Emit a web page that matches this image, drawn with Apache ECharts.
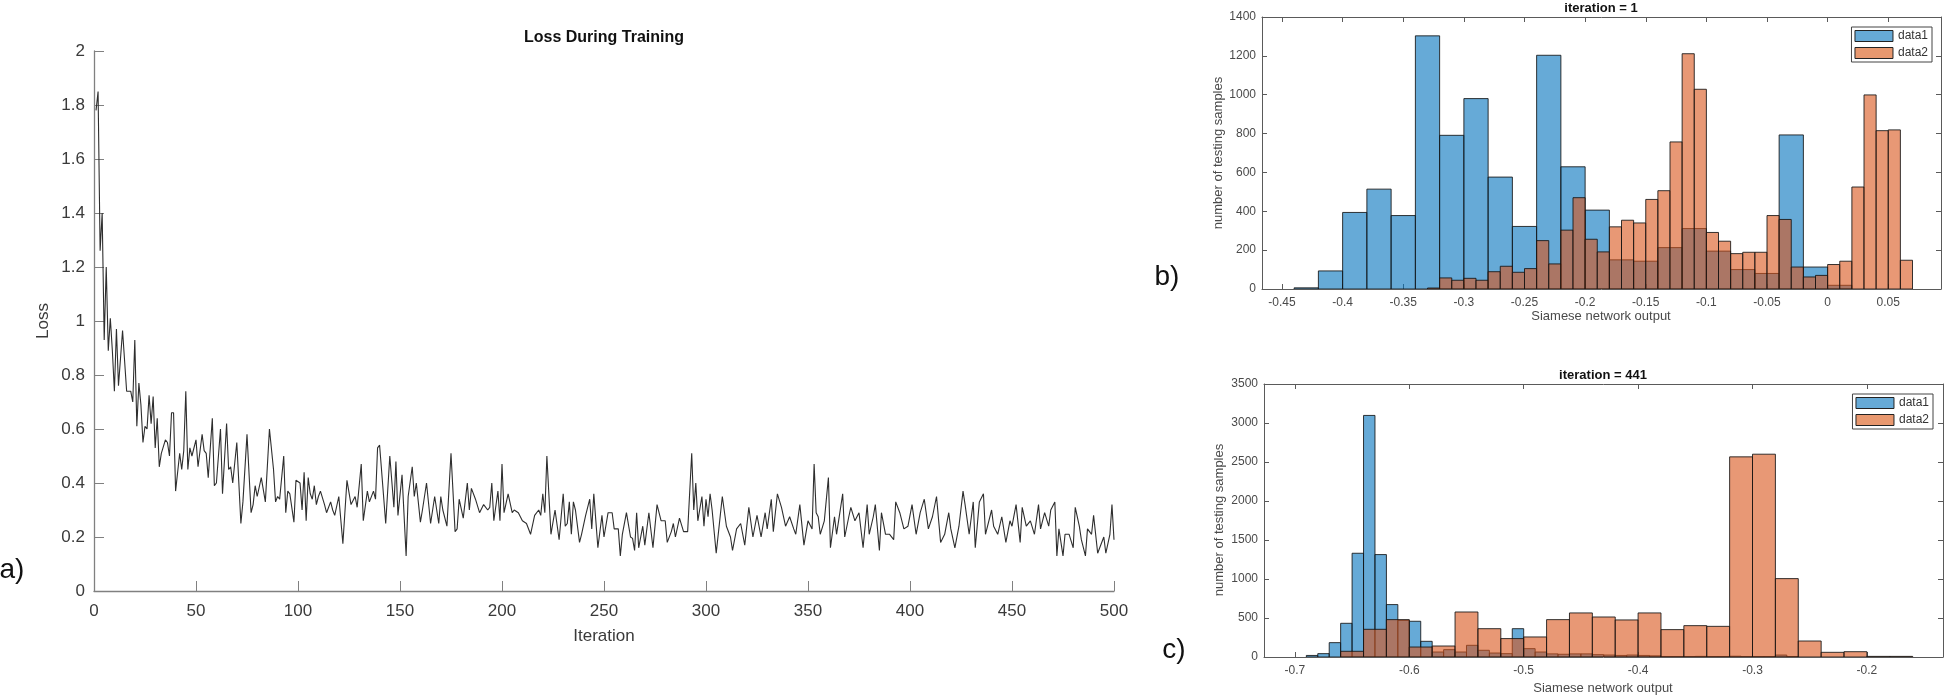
<!DOCTYPE html>
<html><head><meta charset="utf-8">
<script src="https://cdn.jsdelivr.net/npm/echarts@6/dist/echarts.min.js"></script>
<style>html,body{margin:0;padding:0;background:#fff}#c{width:1946px;height:700px}</style>
</head><body><div id="c"></div>
<script>
// ---------- Data ----------
// Loss during training: [iteration, loss]
const lossPoints = [
[1,1.78],[2,1.85],[3,1.26],[4,1.40],[5,0.93],[6,1.20],[7,0.89],[8,1.01],[9,0.89],[10,0.74],[11,0.97],[12,0.76],[14,0.965],[16,0.74],[18,0.74],[19,0.70],[20,0.93],[21,0.61],[22,0.77],[23,0.69],[24,0.55],[25,0.61],[26,0.60],[27,0.725],[28,0.62],[29,0.72],[30,0.53],[31,0.64],[32,0.46],[33,0.51],[35,0.56],[36,0.55],[37,0.50],[38,0.66],[39,0.66],[40,0.37],[42,0.51],[43,0.45],[44,0.52],[45,0.74],[46,0.45],[47,0.53],[48,0.50],[50,0.56],[51,0.46],[53,0.58],[54,0.52],[55,0.51],[56,0.42],[58,0.64],[59,0.39],[60,0.40],[62,0.60],[63,0.36],[65,0.62],[66,0.45],[67,0.46],[68,0.40],[70,0.55],[72,0.25],[73,0.33],[75,0.58],[77,0.29],[78,0.32],[79,0.39],[80,0.35],[82,0.42],[84,0.33],[86,0.60],[88,0.45],[89,0.33],[90,0.35],[91,0.34],[93,0.50],[94,0.29],[95,0.37],[96,0.36],[98,0.255],[99,0.41],[101,0.40],[102,0.30],[103,0.44],[104,0.26],[105,0.42],[106,0.36],[107,0.34],[108,0.39],[109,0.32],[110,0.35],[111,0.37],[113,0.32],[114,0.29],[116,0.33],[117,0.30],[118,0.28],[120,0.35],[122,0.175],[124,0.41],[126,0.32],[128,0.35],[129,0.31],[131,0.47],[132,0.26],[134,0.37],[135,0.33],[137,0.37],[138,0.34],[139,0.53],[140,0.54],[143,0.25],[145,0.50],[147,0.31],[148,0.48],[149,0.28],[151,0.43],[153,0.13],[154,0.35],[156,0.46],[157,0.35],[158,0.40],[160,0.255],[161,0.30],[163,0.40],[165,0.25],[167,0.35],[169,0.25],[170,0.35],[171,0.30],[173,0.24],[175,0.51],[177,0.22],[178,0.23],[179,0.34],[181,0.27],[183,0.40],[184,0.30],[185,0.38],[187,0.34],[189,0.29],[191,0.32],[193,0.30],[194,0.31],[195,0.40],[196,0.26],[198,0.37],[199,0.26],[200,0.47],[201,0.29],[203,0.36],[205,0.29],[206,0.30],[208,0.29],[210,0.26],[212,0.25],[214,0.21],[216,0.28],[218,0.30],[219,0.28],[220,0.36],[221,0.29],[222,0.50],[224,0.21],[226,0.30],[228,0.19],[230,0.36],[231,0.24],[232,0.25],[233,0.33],[234,0.21],[235,0.33],[236,0.30],[238,0.18],[239,0.21],[241,0.28],[243,0.34],[244,0.23],[245,0.36],[247,0.16],[249,0.28],[250,0.20],[252,0.29],[254,0.29],[255,0.23],[257,0.23],[258,0.13],[259,0.21],[261,0.29],[263,0.20],[264,0.195],[265,0.15],[266,0.29],[267,0.16],[269,0.24],[270,0.17],[272,0.29],[274,0.16],[276,0.32],[278,0.26],[280,0.26],[281,0.18],[283,0.22],[284,0.25],[285,0.20],[287,0.27],[289,0.22],[291,0.22],[293,0.51],[294,0.30],[295,0.40],[296,0.26],[298,0.35],[299,0.24],[300,0.34],[301,0.275],[302,0.36],[303,0.30],[305,0.14],[307,0.28],[308,0.35],[310,0.24],[312,0.20],[313,0.15],[315,0.23],[317,0.25],[319,0.17],[321,0.31],[323,0.20],[325,0.28],[327,0.20],[329,0.29],[330,0.23],[332,0.34],[333,0.22],[335,0.36],[337,0.31],[339,0.24],[341,0.275],[343,0.23],[344,0.21],[346,0.32],[348,0.17],[350,0.26],[352,0.23],[353,0.47],[354,0.29],[355,0.275],[356,0.21],[358,0.26],[360,0.42],[361,0.16],[363,0.275],[364,0.21],[367,0.36],[368,0.20],[370,0.275],[371,0.31],[373,0.26],[375,0.29],[377,0.16],[379,0.32],[380,0.21],[382,0.275],[383,0.32],[385,0.15],[386,0.29],[388,0.21],[390,0.21],[392,0.19],[393,0.33],[395,0.29],[397,0.23],[399,0.24],[401,0.32],[403,0.21],[405,0.29],[407,0.34],[409,0.23],[411,0.275],[413,0.35],[415,0.18],[417,0.21],[419,0.29],[420,0.23],[422,0.16],[424,0.24],[426,0.37],[427,0.32],[429,0.21],[431,0.33],[432,0.16],[434,0.33],[436,0.36],[437,0.21],[440,0.30],[441,0.24],[443,0.21],[445,0.275],[447,0.18],[449,0.26],[450,0.24],[452,0.32],[454,0.18],[455,0.31],[457,0.24],[459,0.26],[461,0.21],[463,0.32],[464,0.23],[466,0.29],[468,0.24],[469,0.30],[471,0.33],[472,0.13],[473,0.23],[475,0.13],[476,0.21],[478,0.21],[480,0.16],[481,0.31],[483,0.24],[484,0.19],[486,0.13],[487,0.23],[489,0.21],[490,0.28],[492,0.14],[493,0.16],[495,0.20],[496,0.14],[498,0.21],[499,0.32],[500,0.19]
];
const lossXTicks = [0,50,100,150,200,250,300,350,400,450,500];

// Histogram b) iteration = 1
const h1BlueEdges = [-0.44,-0.42,-0.40,-0.38,-0.36,-0.34,-0.32,-0.30,-0.28,-0.26,-0.24,-0.22,-0.20,-0.18,-0.16,-0.14,-0.12,-0.10,-0.08,-0.06,-0.04,-0.02,0.00,0.02];
const h1BlueCounts = [6,93,394,514,378,1303,791,980,576,322,1203,629,406,150,143,213,311,195,100,80,793,113,19];
const h1OrangeEdges = [-0.33,-0.32,-0.31,-0.30,-0.29,-0.28,-0.27,-0.26,-0.25,-0.24,-0.23,-0.22,-0.21,-0.20,-0.19,-0.18,-0.17,-0.16,-0.15,-0.14,-0.13,-0.12,-0.11,-0.10,-0.09,-0.08,-0.07,-0.06,-0.05,-0.04,-0.03,-0.02,-0.01,0.00,0.01,0.02,0.03,0.04,0.05,0.06,0.07];
const h1OrangeCounts = [5,57,45,55,45,89,117,86,105,249,129,303,470,256,191,320,354,340,461,506,757,1211,1028,291,246,182,189,189,378,358,113,62,70,126,143,525,999,815,819,148];
const h1XTicks = [-0.45,-0.4,-0.35,-0.3,-0.25,-0.2,-0.15,-0.1,-0.05,0,0.05];

// Histogram c) iteration = 441
const h2BlueEdges = [-0.69,-0.68,-0.67,-0.66,-0.65,-0.64,-0.63,-0.62,-0.61,-0.60,-0.59,-0.58,-0.57,-0.56,-0.55,-0.54,-0.53,-0.52,-0.51,-0.50,-0.49,-0.48,-0.47,-0.46,-0.45,-0.44,-0.43,-0.42,-0.41,-0.40,-0.39,-0.38,-0.37,-0.36,-0.35,-0.34,-0.33,-0.32,-0.31,-0.30,-0.29,-0.28,-0.27,-0.26];
const h2BlueCounts = [20,43,184,432,1330,3097,1313,672,470,458,201,64,94,64,150,86,51,43,363,107,64,40,35,40,40,30,25,20,25,20,15,5,5,5,8,5,5,10,5,5,5,25,5];
const h2OrangeEdges = [-0.66,-0.64,-0.62,-0.60,-0.58,-0.56,-0.54,-0.52,-0.50,-0.48,-0.46,-0.44,-0.42,-0.40,-0.38,-0.36,-0.34,-0.32,-0.30,-0.28,-0.26,-0.24,-0.22,-0.20,-0.18,-0.16];
const h2OrangeCounts = [73,355,479,128,141,577,363,236,257,479,565,513,475,565,351,402,393,2566,2600,1005,205,60,68,8,8];
const h2XTicks = [-0.7,-0.6,-0.5,-0.4,-0.3,-0.2];

// ---------- Build ----------
function bins(edges, counts){ return counts.map((c,i)=>[edges[i], edges[i+1], c]); }
const BLUE = 'rgba(0,114,189,0.6)', ORANGE = 'rgba(217,83,25,0.6)';
function histSeries(name, data, xi, yi, fill){
  return {type:'custom', name, xAxisIndex:xi, yAxisIndex:yi, clip:true,
    itemStyle:{color:fill},
    encode:{x:[0,1], y:2},
    data,
    renderItem(params, api){
      const p0 = api.coord([api.value(0), api.value(2)]);
      const p1 = api.coord([api.value(1), 0]);
      return {type:'rect', shape:{x:p0[0], y:p0[1], width:p1[0]-p0[0], height:p1[1]-p0[1]},
        style:{fill, stroke:'rgba(20,20,20,0.85)', lineWidth:1}};
    }};
}
const FONT = 'Liberation Sans, Arial, sans-serif';
const plain = v => String(Math.round(v*1000)/1000);
const hLabel = {fontSize:12, color:'#4a4a4a', fontFamily:FONT, formatter:plain};
function hx(gi, min, max, ticks, pos){
  const labels = pos==='bottom';
  return {type:'value', gridIndex:gi, position:pos, min, max, splitLine:{show:false},
    axisLine:{show:true, onZero:false, lineStyle:{color:'#5a5a5a', width:1}},
    axisTick:{show:true, inside:true, length:5, customValues:ticks, lineStyle:{color:'#5a5a5a'}},
    axisLabel:Object.assign({show:labels, margin:8, customValues:ticks}, hLabel)};
}
function hy(gi, max, interval, pos){
  const labels = pos==='left';
  return {type:'value', gridIndex:gi, position:pos, min:0, max, interval, splitLine:{show:false},
    axisLine:{show:true, onZero:false, lineStyle:{color:'#5a5a5a', width:1}},
    axisTick:{show:true, inside:true, length:5, lineStyle:{color:'#5a5a5a'}},
    axisLabel:Object.assign({show:labels, margin:6}, hLabel)};
}
const lAxisLine = {show:true, onZero:false, lineStyle:{color:'#808080', width:1.3}};
const lLabel = {fontSize:17, color:'#3a3a3a', fontFamily:FONT, formatter:plain};

const legendBase = {orient:'vertical', itemWidth:38, itemHeight:11, itemGap:5, padding:[3,4,3,3],
  borderColor:'#444', borderWidth:1, backgroundColor:'#fff', icon:'rect',
  textStyle:{fontSize:12, color:'#333', fontFamily:FONT},
  data:[{name:'data1', itemStyle:{color:'#66aad7', borderColor:'#222', borderWidth:1}},
        {name:'data2', itemStyle:{color:'#e8986f', borderColor:'#222', borderWidth:1}}]};

function txt(text, x, y, size, opts){
  return Object.assign({type:'text', x, y, style:{text, fontSize:size, fontFamily:FONT,
    fill:(opts&&opts.fill)||'#222', fontWeight:(opts&&opts.bold)?'bold':'normal', align:'center', verticalAlign:'middle'}},
    (opts&&opts.rot)?{rotation:Math.PI/2}:{});
}

const option = {
  animation:false,
  backgroundColor:'#fff',
  grid:[
    {left:94, top:51, width:1020, height:540},
    {left:1262, top:17, width:679, height:272},
    {left:1264, top:384, width:679, height:273}
  ],
  xAxis:[
    {type:'value', gridIndex:0, min:0, max:500, interval:50, splitLine:{show:false},
      axisLine:lAxisLine, axisTick:{inside:true, length:10, lineStyle:{color:'#808080'}},
      axisLabel:Object.assign({margin:12, customValues:lossXTicks}, lLabel)},
    hx(1, -0.4665, 0.0935, h1XTicks, 'bottom'),
    hx(1, -0.4665, 0.0935, h1XTicks, 'top'),
    hx(2, -0.727, -0.1335, h2XTicks, 'bottom'),
    hx(2, -0.727, -0.1335, h2XTicks, 'top')
  ],
  yAxis:[
    {type:'value', gridIndex:0, min:0, max:2, interval:0.2, splitLine:{show:false},
      axisLine:lAxisLine, axisTick:{show:true, inside:true, length:10, lineStyle:{color:'#808080'}},
      axisLabel:Object.assign({margin:9}, lLabel)},
    hy(1, 1400, 200, 'left'),
    hy(1, 1400, 200, 'right'),
    hy(2, 3500, 500, 'left'),
    hy(2, 3500, 500, 'right')
  ],
  legend:[
    Object.assign({right:14, top:27}, legendBase),
    Object.assign({right:13, top:394}, legendBase)
  ],
  series:[
    {type:'line', name:'loss', xAxisIndex:0, yAxisIndex:0, data:lossPoints, showSymbol:false,
      lineStyle:{color:'#2e2e2e', width:1.1}, z:3},
    histSeries('data1', bins(h1BlueEdges, h1BlueCounts), 1, 1, BLUE),
    histSeries('data2', bins(h1OrangeEdges, h1OrangeCounts), 1, 1, ORANGE),
    histSeries('data1', bins(h2BlueEdges, h2BlueCounts), 3, 3, BLUE),
    histSeries('data2', bins(h2OrangeEdges, h2OrangeCounts), 3, 3, ORANGE)
  ],
  graphic:[
    txt('Loss During Training', 604, 38, 16, {bold:true, fill:'#111'}),
    txt('Loss', 43, 321, 17, {rot:true, fill:'#3a3a3a'}),
    txt('Iteration', 604, 636, 17, {fill:'#3a3a3a'}),
    txt('a)', 12, 570, 28, {fill:'#111'}),
    txt('b)', 1167, 277, 28, {fill:'#111'}),
    txt('c)', 1174, 650, 28, {fill:'#111'}),
    txt('iteration = 1', 1601, 8, 13, {bold:true, fill:'#111'}),
    txt('iteration = 441', 1603, 375, 13, {bold:true, fill:'#111'}),
    txt('Siamese network output', 1601, 316, 13, {fill:'#4a4a4a'}),
    txt('Siamese network output', 1603, 688, 13, {fill:'#4a4a4a'}),
    txt('number of testing samples', 1218, 153, 13, {rot:true, fill:'#4a4a4a'}),
    txt('number of testing samples', 1219, 520, 13, {rot:true, fill:'#4a4a4a'})
  ]
};
echarts.init(document.getElementById('c'), null, {renderer:'canvas'}).setOption(option);
</script>
</body></html>
